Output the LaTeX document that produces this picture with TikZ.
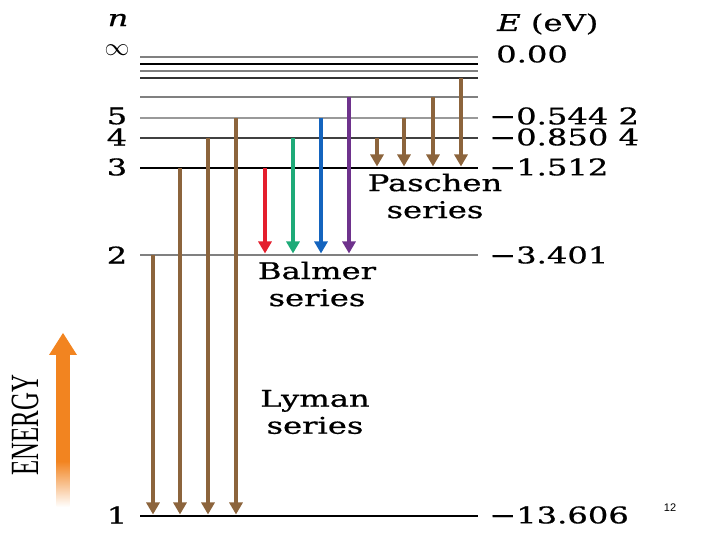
\documentclass[tikz,border=0pt]{standalone}
\usepackage{fontspec}
\usepackage{graphicx}
\setmainfont{DejaVu Serif}[FakeBold=0.6]
\newfontfamily\slidefont{Liberation Sans}
\newfontfamily\energyfont{Liberation Serif}
\usetikzlibrary{arrows.meta}
\definecolor{trbrown}{RGB}{140,100,60}
\definecolor{balred}{RGB}{228,30,45}
\definecolor{balgreen}{RGB}{30,170,120}
\definecolor{balblue}{RGB}{20,100,190}
\definecolor{balpurple}{RGB}{110,50,140}
\definecolor{energyorange}{RGB}{242,132,32}
\pgfdeclareverticalshading{energyfade}{100bp}{color(0bp)=(white); color(25bp)=(white); color(40bp)=(energyorange); color(100bp)=(energyorange)}
\newcommand{\wide}[1]{\scalebox{1.4}[1]{#1}}

\begin{document}
\begin{tikzpicture}[x=1pt, y=1pt, every node/.style={font=\fontsize{23}{27}\selectfont, inner sep=0pt}, lev/.style={line width=2pt}, tr/.style={line width=3.2pt, -{Triangle[length=12pt,width=13pt]}, shorten >=1.5pt}, lyman/.style={tr, trbrown}, paschen/.style={tr, trbrown}]
\useasboundingbox (0,0) rectangle (720,540);
% energy levels
\coordinate (n1) at (140,24); \coordinate (n2) at (140,285); \coordinate (n3) at (140,372); \coordinate (n4) at (140,402); \coordinate (n5) at (140,422); \coordinate (n6) at (140,443); \coordinate (n7) at (140,462); \coordinate (n8) at (140,469); \coordinate (n9) at (140,476); \coordinate (ninf) at (140,483);
\draw[lev, black] (n1) -- ++(338,0); \draw[lev, gray] (n2) -- ++(338,0); \draw[lev, black] (n3) -- ++(338,0); \draw[lev, black!75] (n4) -- ++(338,0); \draw[lev, gray!80] (n5) -- ++(338,0); \draw[lev, gray] (n6) -- ++(338,0); \draw[lev, black!80] (n7) -- ++(338,0); \draw[lev, gray] (n8) -- ++(338,0); \draw[lev, black] (n9) -- ++(338,0); \draw[lev, gray] (ninf) -- ++(338,0);
% quantum numbers
\node (nlab) at (118,520) {\wide{\textit{n}}};
\node (kinf) at (117,490) {\fontsize{26}{26}\selectfont$\infty$};
\node (k5) at (117,424) {\wide{5}}; \node (k4) at (117,403) {\wide{4}}; \node (k3) at (117,373) {\wide{3}}; \node (k2) at (117,285) {\wide{2}}; \node (k1) at (117,25) {\wide{1}};
% energies
\node[anchor=west] (eunit) at (497,516) {\wide{\textit{E} (eV)}};
\node[anchor=west] (einf) at (496,486) {\wide{0.00}};
\node[anchor=west] (e5) at (489,424) {\wide{−0.544 2}};
\node[anchor=west] (e4) at (489,403) {\wide{−0.850 4}};
\node[anchor=west] (e3) at (489,373) {\wide{−1.512}};
\node[anchor=west] (e2) at (489,285) {\wide{−3.401}};
\node[anchor=west] (e1) at (489,25) {\wide{−13.606}};
% transitions
\draw[lyman] (153,0 |- n2) -- (153,0 |- n1); \draw[lyman] (180,0 |- n3) -- (180,0 |- n1); \draw[lyman] (208,0 |- n4) -- (208,0 |- n1); \draw[lyman] (236,0 |- n5) -- (236,0 |- n1);
\draw[tr, balred] (265,0 |- n3) -- (265,0 |- n2); \draw[tr, balgreen] (293,0 |- n4) -- (293,0 |- n2); \draw[tr, balblue] (321,0 |- n5) -- (321,0 |- n2); \draw[tr, balpurple] (349,0 |- n6) -- (349,0 |- n2);
\draw[paschen] (377,0 |- n4) -- (377,0 |- n3); \draw[paschen] (404,0 |- n5) -- (404,0 |- n3); \draw[paschen] (433,0 |- n6) -- (433,0 |- n3); \draw[paschen] (461,0 |- n7) -- (461,0 |- n3);
% series names
\node[align=center] (pas) at (435,344) {\wide{Paschen}\\\wide{series}};
\node[align=center] (bal) at (317,256) {\wide{Balmer}\\\wide{series}};
\node[align=center] (lym) at (315,128) {\wide{Lyman}\\\wide{series}};
% energy axis
\node[rotate=90, font=\energyfont\fontsize{40}{40}\selectfont] (energy) at (25,115) {\scalebox{0.62}[1]{ENERGY}};
\shade[shading=energyfade] (56.5,33) rectangle (69.5,186);
\fill[energyorange] (49,185) -- (77,185) -- (63,207) -- cycle;
\node[font=\slidefont\fontsize{11}{11}\selectfont] (pagenum) at (670,32) {12};
\end{tikzpicture}
\end{document}
